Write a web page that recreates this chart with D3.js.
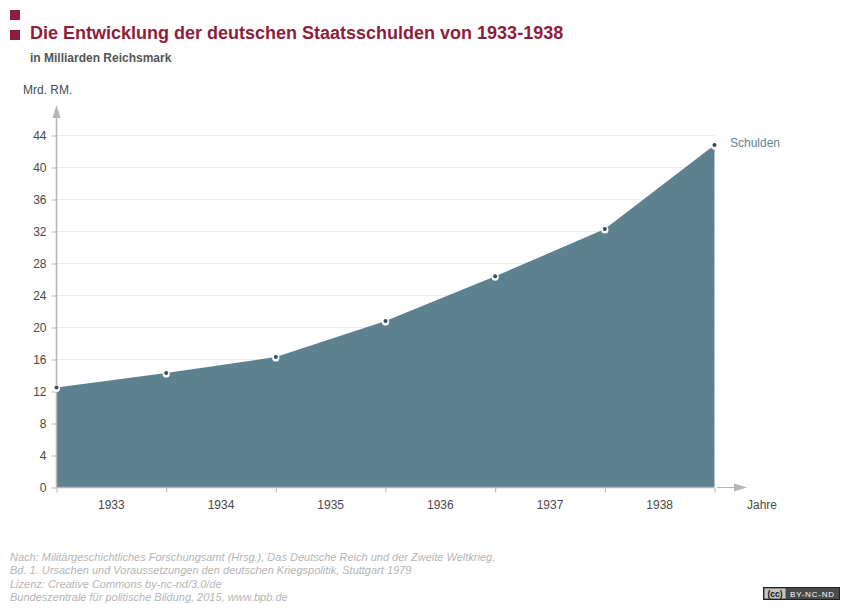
<!DOCTYPE html>
<html>
<head>
<meta charset="utf-8">
<script src="https://cdnjs.cloudflare.com/ajax/libs/d3/7.8.5/d3.min.js"></script>
<style>
  html, body { margin: 0; padding: 0; background: #fff; }
  text { font-family: "Liberation Sans", Arial, sans-serif; }
</style>
</head>
<body>
<div id="chart"></div>
<script>
// data
var years = ["1933", "1934", "1935", "1936", "1937", "1938"];
var stops = [0, 1, 2, 3, 4, 5, 6];   // year boundaries, the points sit on these
var debt = [12.5, 14.3, 16.3, 20.8, 26.4, 32.3, 42.8];
var yTicks = [0, 4, 8, 12, 16, 20, 24, 28, 32, 36, 40, 44];
var sourceLines = [
  "Nach: Militärgeschichtliches Forschungsamt (Hrsg.), Das Deutsche Reich und der Zweite Weltkrieg,",
  "Bd. 1. Ursachen und Voraussetzungen den deutschen Kriegspolitik, Stuttgart 1979",
  "Lizenz: Creative Commons by-nc-nd/3.0/de",
  "Bundeszentrale für politische Bildung, 2015, www.bpb.de"
];

var width = 850, height = 610;
var red = "#8e1c3c", axisGrey = "#b5b5b5", textGrey = "#4a4a4a", areaCol = "#5a7e8d", dotCol = "#2f4f5c";

var svg = d3.select("#chart").append("svg")
  .attr("width", width)
  .attr("height", height)
  .style("display", "block");

var x = d3.scaleLinear().domain([0, 6]).range([56.5, 714.5]);
var xBand = d3.scaleBand().domain(years).range([56.5, 714.5]);
var y = d3.scaleLinear().domain([0, 44]).range([487.5, 135.5]);

// title block
svg.selectAll(".bullet")
  .data([10, 30])
  .enter().append("rect")
    .attr("x", 10)
    .attr("y", function(d) { return d; })
    .attr("width", 10)
    .attr("height", 10)
    .attr("fill", red);

svg.append("text")
  .attr("x", 30).attr("y", 39)
  .attr("font-size", "18px").attr("font-weight", "bold")
  .attr("fill", red)
  .text("Die Entwicklung der deutschen Staatsschulden von 1933-1938");

svg.append("text")
  .attr("x", 30).attr("y", 62)
  .attr("font-size", "12px").attr("font-weight", "bold")
  .attr("fill", "#555")
  .text("in Milliarden Reichsmark");

// grid lines
svg.selectAll(".grid")
  .data(yTicks.slice(1))
  .enter().append("line")
    .attr("x1", 56.5)
    .attr("x2", 714.5)
    .attr("y1", function(d) { return y(d); })
    .attr("y2", function(d) { return y(d); })
    .attr("stroke", "#ececec");

// area
var area = d3.area()
  .x(function(d, i) { return x(stops[i]); })
  .y0(y(0))
  .y1(function(d) { return y(d); });

svg.append("path")
  .datum(debt)
  .attr("d", area)
  .attr("fill", areaCol)
  .attr("fill-opacity", 0.98);

// y axis
var yAxis = d3.axisLeft(y).tickValues(yTicks).tickSize(5).tickPadding(5);
var gy = svg.append("g").attr("transform", "translate(56.5,0)").call(yAxis);
gy.select(".domain").remove();
gy.selectAll(".tick line").attr("stroke", axisGrey);
gy.selectAll(".tick text").attr("font-size", "12px").attr("fill", textGrey)
  .style("font-family", '"Liberation Sans", Arial, sans-serif');

svg.append("line")
  .attr("x1", 56.5).attr("x2", 56.5)
  .attr("y1", 115).attr("y2", y(0))
  .attr("stroke", axisGrey)
  .attr("stroke-width", 1.6);
svg.append("path")
  .attr("d", "M56.5,105 L60.5,118 L52.5,118 Z")
  .attr("fill", axisGrey);

// x axis
var xAxis = d3.axisBottom(x).tickValues(stops).tickSize(5).tickFormat("");
var gx = svg.append("g").attr("transform", "translate(0,487.5)").call(xAxis);
gx.select(".domain").remove();
gx.selectAll(".tick line").attr("stroke", axisGrey);

svg.append("line")
  .attr("x1", 56.5).attr("x2", 714.5)
  .attr("y1", 487.5).attr("y2", 487.5)
  .attr("stroke", axisGrey)
  .attr("stroke-width", 1.6);
svg.append("line")
  .attr("x1", 717).attr("x2", 735)
  .attr("y1", 487.5).attr("y2", 487.5)
  .attr("stroke", axisGrey);
svg.append("path")
  .attr("d", "M747,487.5 L734,483.5 L734,491.5 Z")
  .attr("fill", axisGrey);

svg.selectAll(".year")
  .data(years)
  .enter().append("text")
    .attr("x", function(d) { return xBand(d) + xBand.bandwidth() / 2; })
    .attr("y", 509)
    .attr("text-anchor", "middle")
    .attr("font-size", "12px")
    .attr("fill", textGrey)
    .text(function(d) { return d; });

// axis titles
svg.append("text")
  .attr("x", 23).attr("y", 94)
  .attr("font-size", "12px").attr("fill", textGrey)
  .text("Mrd. RM.");
svg.append("text")
  .attr("x", 747).attr("y", 509)
  .attr("font-size", "12px").attr("fill", textGrey)
  .text("Jahre");

// points, the white ring sits a little under the dot
svg.selectAll(".halo")
  .data(debt)
  .enter().append("circle")
    .attr("cx", function(d, i) { return x(stops[i]); })
    .attr("cy", function(d) { return y(d) + 0.8; })
    .attr("r", 3.6)
    .attr("fill", "#fff");
svg.selectAll(".dot")
  .data(debt)
  .enter().append("circle")
    .attr("cx", function(d, i) { return x(stops[i]); })
    .attr("cy", function(d) { return y(d); })
    .attr("r", 2)
    .attr("fill", dotCol);

// series label
svg.append("text")
  .attr("x", 730).attr("y", 147)
  .attr("font-size", "12px").attr("fill", "#5f8596")
  .text("Schulden");

// source
svg.selectAll(".source")
  .data(sourceLines)
  .enter().append("text")
    .attr("x", 10)
    .attr("y", function(d, i) { return 561 + i * 13.3; })
    .attr("font-size", "11px")
    .attr("font-style", "italic")
    .attr("fill", "#b5b5b5")
    .text(function(d) { return d; });

// licence badge
var badge = svg.append("g").attr("transform", "translate(763.5,587.5)");
badge.append("rect").attr("width", 76).attr("height", 12).attr("fill", "#4a4a4a").attr("stroke", "#222").attr("stroke-width", 1);
badge.append("rect").attr("x", 1).attr("y", 1).attr("width", 21).attr("height", 10).attr("fill", "#c4c4c4");
badge.append("text").attr("x", 11.5).attr("y", 9).attr("text-anchor", "middle")
  .attr("font-size", "8.5px").attr("font-weight", "bold").attr("fill", "#111").text("(cc)");
badge.append("text").attr("x", 49).attr("y", 9).attr("text-anchor", "middle")
  .attr("font-size", "8px").attr("letter-spacing", "0.8px").attr("fill", "#fff").text("BY-NC-ND");
</script>
</body>
</html>
